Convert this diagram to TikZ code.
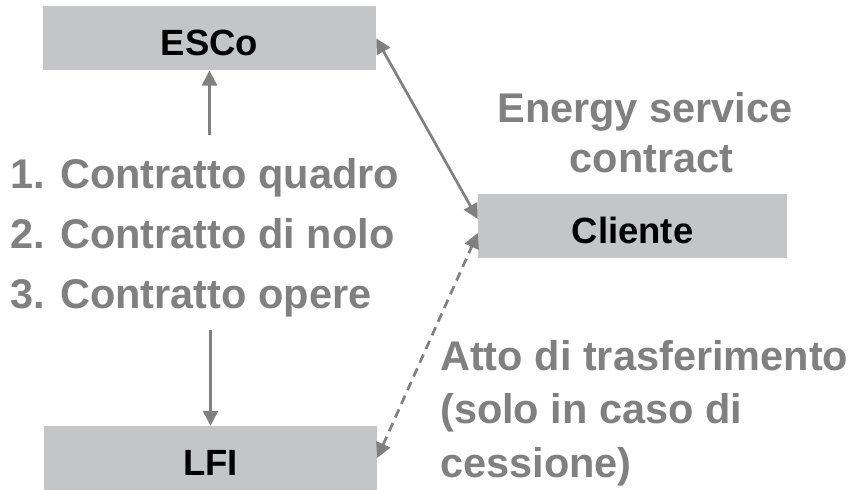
\documentclass[tikz,border=0pt]{standalone}
\usepackage{fontspec}
\setmainfont{Liberation Sans}
\usetikzlibrary{arrows.meta}
\definecolor{boxgray}{HTML}{C4C5C7}
\definecolor{txtgray}{HTML}{808080}
\definecolor{arrgray}{HTML}{808080}
\tikzset{
  box/.style={rectangle, fill=boxgray, draw=none, inner sep=0pt,
    minimum height=64pt, text height=34pt, text depth=0pt,
    font=\fontsize{36.5}{36.5}\selectfont\bfseries, text=black},
  graytxt/.style={inner sep=0pt, text=txtgray,
    font=\fontsize{41.5}{41.5}\selectfont\bfseries},
  arr/.style={draw=arrgray, line width=2.7pt, -{Triangle[length=15pt,width=15pt]}},
  darr/.style={draw=arrgray, line width=2.7pt, {Triangle[length=15pt,width=15pt]}-{Triangle[length=15pt,width=15pt]}},
  dasharr/.style={draw=arrgray, line width=2.7pt, dash pattern=on 9pt off 6pt, {Triangle[length=15pt,width=15pt]}-{Triangle[length=15pt,width=15pt]}}
}
\begin{document}
\begin{tikzpicture}[x=1pt,y=-1pt]
\useasboundingbox (0,0) rectangle (860,490);
% boxes
\node[box, minimum width=333pt] (ESCo) at (209.5,38.3) {ESCo};
\node[box, minimum width=333pt] (LFI) at (210.5,458) {LFI};
\node[box, minimum width=309pt] (Cliente) at (632.5,226) {Cliente};
% labels
\node[graytxt, anchor=base] (es1) at (645,122) {Energy service};
\node[graytxt, anchor=base] (es2) at (651.5,172) {contract};
\node[graytxt, anchor=base west] (l1) at (10,188) {1. Contratto quadro};
\node[graytxt, anchor=base west] (l2) at (10,248) {2. Contratto di nolo};
\node[graytxt, anchor=base west] (l3) at (10,308) {3. Contratto opere};
\node[graytxt, anchor=base west] (a1) at (440,370) {Atto di trasferimento};
\node[graytxt, anchor=base west] (a2) at (440,423.5) {(solo in caso di};
\node[graytxt, anchor=base west] (a3) at (440,477) {cessione)};
% connectors
\coordinate (up1) at (209.5,135);
\coordinate (dn1) at (210.5,330);
\draw[arr] (up1) -- (ESCo.south);
\draw[arr] (dn1) -- (LFI.north);
\draw[darr] (ESCo.east) -- ([yshift=7pt]Cliente.west);
\draw[dasharr] (LFI.east) -- ([yshift=-7pt]Cliente.west);
\end{tikzpicture}
\end{document}
